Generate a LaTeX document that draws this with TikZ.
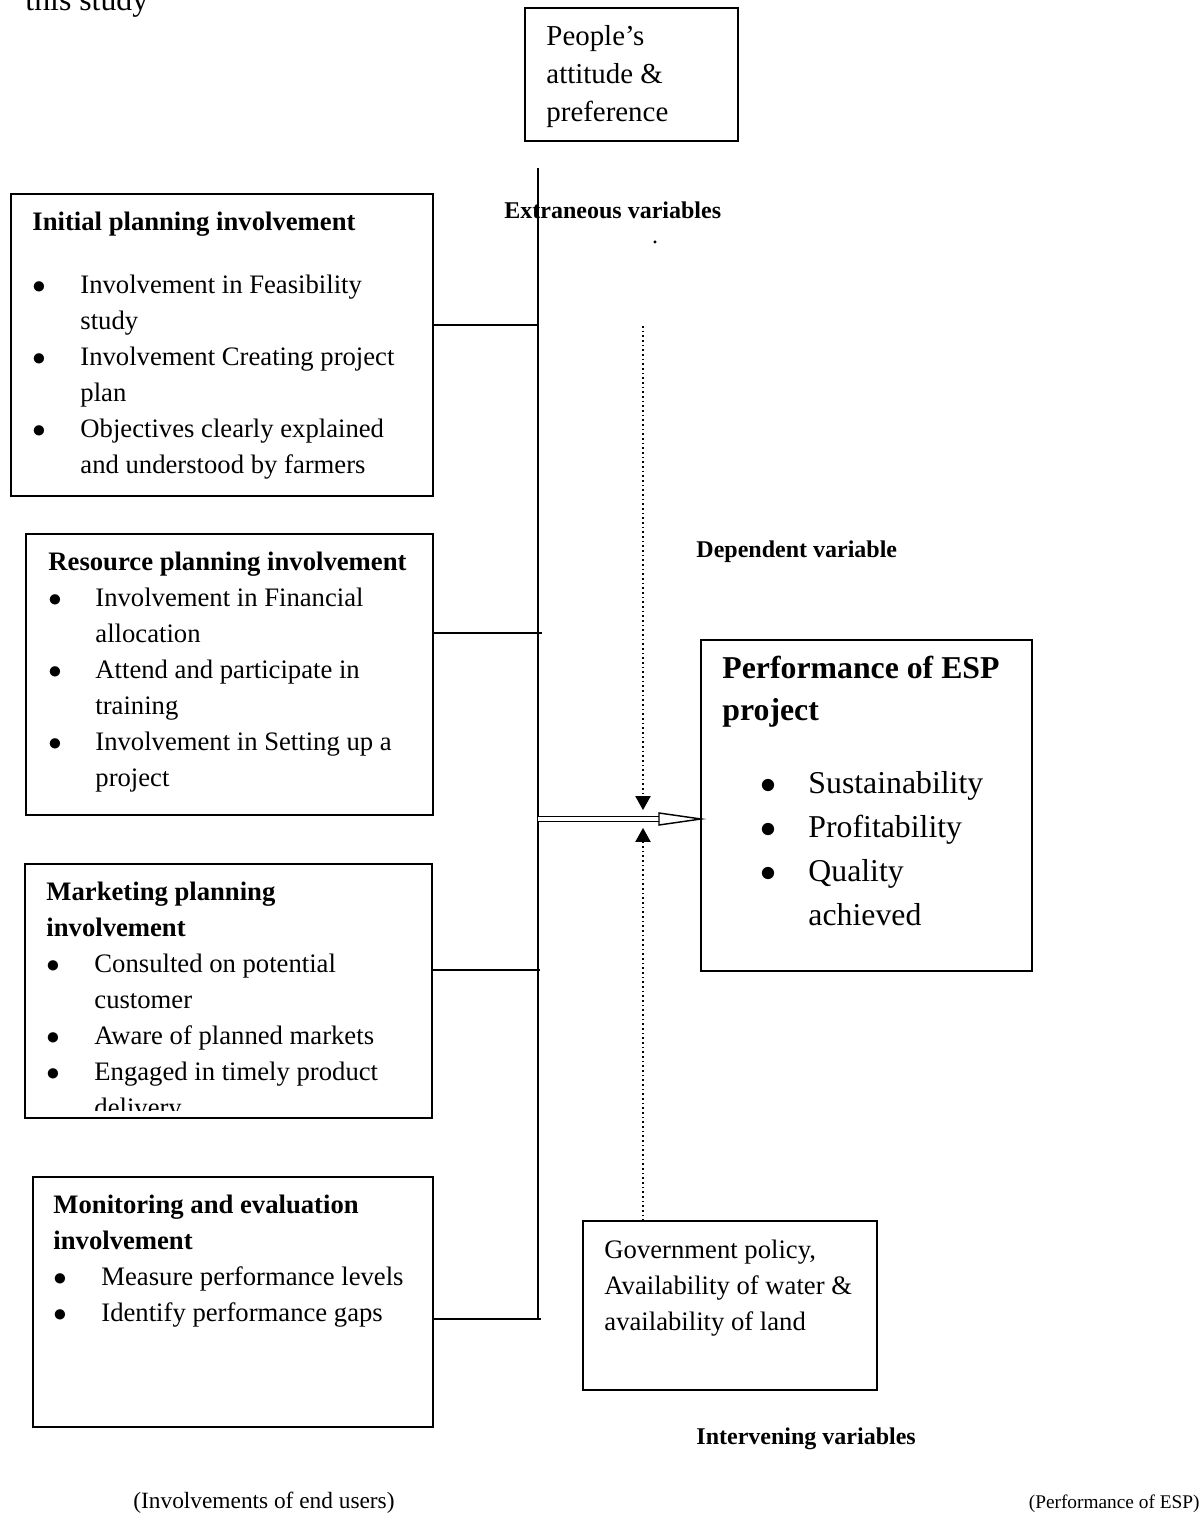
\documentclass[tikz,border=0pt]{standalone}
\usepackage{fontspec}
\setmainfont{Liberation Serif}
\usetikzlibrary{arrows.meta}
\newlength{\pxu}
\setlength{\pxu}{0.45pt}
\newcommand{\bul}{$\bullet$}

\tikzset{
	box/.style={draw,line width=0.8pt,inner sep=0,outer sep=0,anchor=north west},
	txt/.style={inner sep=0,anchor=base west,font=\fontsize{12}{16.2}\selectfont},
	lbl/.style={inner sep=0,anchor=base west,font=\fontsize{10.8}{13}\selectfont\bfseries},
	footnote/.style={inner sep=0,font=\fontsize{10.5}{13}\selectfont},
	dotarrow/.style={line width=0.7pt,dash pattern=on 0.7pt off 1.4pt,shorten >=4pt,-{Triangle[length=6.3pt,width=6.8pt]}}
}

\begin{document}
\begin{tikzpicture}[x=0.45pt,y=-0.45pt]
	\useasboundingbox (0,0) rectangle (1201,1516);
	\node[txt,font=\fontsize{14.3}{17}\selectfont] (study) at (25,10) {this study};
	% boxes
	\node[box,minimum width=95.85pt,minimum height=59.85pt] (people) at (525,8) {};
	\node[box,minimum width=189.9pt,minimum height=135.9pt] (init) at (11,194) {};
	\node[box,minimum width=183.15pt,minimum height=126.45pt] (res) at (26,534) {};
	\node[box,minimum width=183.15pt,minimum height=114.3pt] (mkt) at (25,864) {};
	\node[box,minimum width=180pt,minimum height=112.5pt] (mon) at (33,1177) {};
	\node[box,minimum width=148.95pt,minimum height=148.95pt] (perf) at (701,640) {};
	\node[box,minimum width=132.3pt,minimum height=76.05pt] (gov) at (583,1221) {};
	% box texts
	\node[txt,font=\fontsize{13}{17.3}\selectfont] (peopleT) at (546,45) {\begin{tabular}[t]{@{}l@{}}
		People's\\ attitude \&\\ preference
	\end{tabular}};
	\node[txt] (initT) at (32,230) {\begin{tabular}[t]{@{}p{48\pxu}@{}l@{}}
		\multicolumn{2}{@{}l@{}}{\textbf{Initial planning involvement}}\\[27\pxu]
		\bul & Involvement in Feasibility\\
		     & study\\
		\bul & Involvement Creating project\\
		     & plan\\
		\bul & Objectives clearly explained\\
		     & and understood by farmers
	\end{tabular}};
	\node[txt] (resT) at (48,570) {\begin{tabular}[t]{@{}p{47\pxu}@{}l@{}}
		\multicolumn{2}{@{}l@{}}{\textbf{Resource planning involvement}}\\
		\bul & Involvement in Financial\\
		     & allocation\\
		\bul & Attend and participate in\\
		     & training\\
		\bul & Involvement in Setting up a\\
		     & project
	\end{tabular}};
	\begin{scope}
		\clip (25,864) rectangle (432,1110);
		\node[txt] (mktT) at (46,900) {\begin{tabular}[t]{@{}p{48\pxu}@{}l@{}}
			\multicolumn{2}{@{}l@{}}{\textbf{Marketing planning}}\\
			\multicolumn{2}{@{}l@{}}{\textbf{involvement}}\\
			\bul & Consulted on potential\\
			     & customer\\
			\bul & Aware of planned markets\\
			\bul & Engaged in timely product\\
			     & delivery
		\end{tabular}};
	\end{scope}
	\node[txt] (monT) at (53,1213) {\begin{tabular}[t]{@{}p{48\pxu}@{}l@{}}
		\multicolumn{2}{@{}l@{}}{\textbf{Monitoring and evaluation}}\\
		\multicolumn{2}{@{}l@{}}{\textbf{involvement}}\\
		\bul & Measure performance levels\\
		\bul & Identify performance gaps
	\end{tabular}};
	\node[txt,font=\fontsize{14.3}{18.9}\selectfont\bfseries] (perfH) at (722,678) {\begin{tabular}[t]{@{}l@{}}
		Performance of ESP\\ project
	\end{tabular}};
	\node[txt,font=\fontsize{14.3}{19.8}\selectfont] (perfL) at (760,793) {\begin{tabular}[t]{@{}p{48\pxu}@{}l@{}}
		\bul & Sustainability\\
		\bul & Profitability\\
		\bul & Quality\\
		     & achieved
	\end{tabular}};
	\node[txt] (govT) at (604,1258) {\begin{tabular}[t]{@{}l@{}}
		Government policy,\\ Availability of water \&\\ availability of land
	\end{tabular}};
	% labels
	\node[lbl] (extr) at (504,218) {Extraneous variables};
	\node[inner sep=0,anchor=base,font=\fontsize{10.8}{13}\selectfont] (stray) at (655,243) {.};
	\node[lbl] (dep) at (696,557) {Dependent variable};
	\node[lbl] (interv) at (696,1444) {Intervening variables};
	\node[footnote,anchor=base west] (users) at (133,1508) {(Involvements of end users)};
	\node[footnote,anchor=base east,font=\fontsize{8.7}{11}\selectfont] (perfnote) at (1200,1508) {(Performance of ESP)};
	% spine and links
	\coordinate (sptop) at (538,168);
	\coordinate (spbot) at (538,1320);
	\coordinate (j1) at (538,325);
	\coordinate (j2) at (542,633);
	\coordinate (j3) at (540,970);
	\coordinate (j4) at (541,1319);
	\coordinate (hub) at (538,819);
	\coordinate (dots) at (643,326);
	\draw[line width=0.9pt] (sptop) -- (spbot);
	\draw[line width=0.8pt] (init.east |- j1) -- (j1);
	\draw[line width=0.8pt] (res.east |- j2) -- (j2);
	\draw[line width=0.8pt] (mkt.east |- j3) -- (j3);
	\draw[line width=0.8pt] (mon.east |- j4) -- (j4);
	% double arrow into performance
	\draw[line width=0.65pt,double,double distance=1.4pt,shorten >=18.5pt] (hub) -- (perf.west |- hub);
	\draw[line width=0.65pt,fill=white] (perf.west |- hub) -- ++(-42,-6) -- ++(0,12) -- cycle;
	% dotted arrows
	\draw[dotarrow] (dots) -- (hub -| dots);
	\draw[dotarrow] (gov.north -| dots) -- (hub -| dots);
\end{tikzpicture}
\end{document}
